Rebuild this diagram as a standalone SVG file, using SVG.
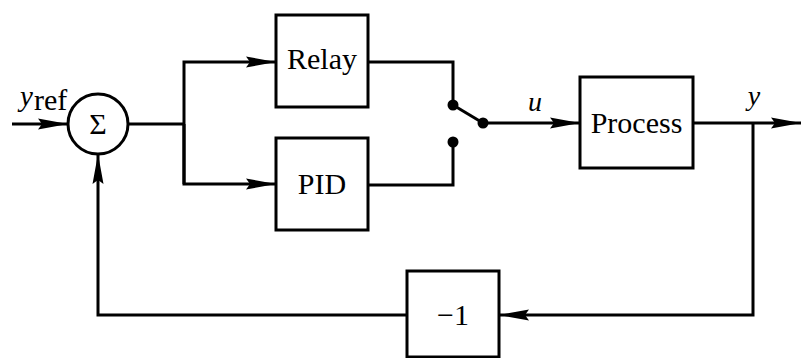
<svg xmlns="http://www.w3.org/2000/svg" width="801" height="358" viewBox="0 0 801 358">
<style>
.ln{fill:none;stroke:#000;stroke-width:3}
.bx{fill:#fff;stroke:#000;stroke-width:3}
.t{font-family:"Liberation Serif","Times New Roman",serif;font-size:30px;fill:#000}
.i{font-family:"Liberation Serif","Times New Roman",serif;font-style:italic;fill:#000}
</style>
<defs>
<marker id="ah" markerUnits="userSpaceOnUse" markerWidth="32" markerHeight="14" refX="30" refY="6" orient="auto">
<path d="M0,0.5 L30,6 L0,11.5 L4,6 Z" fill="#000"/>
</marker>
</defs>
<g id="connectors">
<line class="ln" x1="12" y1="124" x2="68" y2="124" marker-end="url(#ah)"/>
<polyline class="ln" points="128,124 184,124"/>
<polyline class="ln" points="184,184 184,62 276,62" marker-end="url(#ah)"/>
<polyline class="ln" points="184,124 184,184 276,184" marker-end="url(#ah)"/>
<polyline class="ln" points="368,62 453,62 453,105"/>
<polyline class="ln" points="368,185 453,185 453,142"/>
<line class="ln" x1="453" y1="105" x2="483" y2="123"/>
<line class="ln" x1="483" y1="123" x2="580" y2="123" marker-end="url(#ah)"/>
<line class="ln" x1="693" y1="123" x2="801" y2="123" marker-end="url(#ah)"/>
<polyline class="ln" points="753,123 753,315 499,315" marker-end="url(#ah)"/>
<polyline class="ln" points="407,315 98,315 98,154" marker-end="url(#ah)"/>
<circle cx="453" cy="105" r="5.5" fill="#000"/>
<circle cx="453" cy="142" r="5.5" fill="#000"/>
<circle cx="483" cy="123" r="5.5" fill="#000"/>
</g>
<g id="sum">
<circle class="bx" cx="98" cy="124" r="30"/>
<text class="t" x="98" y="134" text-anchor="middle" font-size="29">Σ</text>
</g>
<g id="relay">
<rect class="bx" x="276" y="15" width="92" height="92"/>
<text class="t" x="322" y="69" text-anchor="middle">Relay</text>
</g>
<g id="pid">
<rect class="bx" x="276" y="138" width="92" height="92"/>
<text class="t" x="322" y="194" text-anchor="middle">PID</text>
</g>
<g id="process">
<rect class="bx" x="580" y="77" width="113" height="91"/>
<text class="t" x="636.5" y="133" text-anchor="middle">Process</text>
</g>
<g id="gain">
<rect class="bx" x="407" y="271" width="92" height="86"/>
<text class="t" x="453" y="325" text-anchor="middle">−1</text>
</g>
<g id="labels">
<text class="i" x="20" y="106" font-size="29">y</text>
<text class="t" x="34" y="110" font-size="18">ref</text>
<text class="i" x="535" y="111" font-size="28" text-anchor="middle">u</text>
<text class="i" x="754" y="105" font-size="28" text-anchor="middle">y</text>
</g>
</svg>
